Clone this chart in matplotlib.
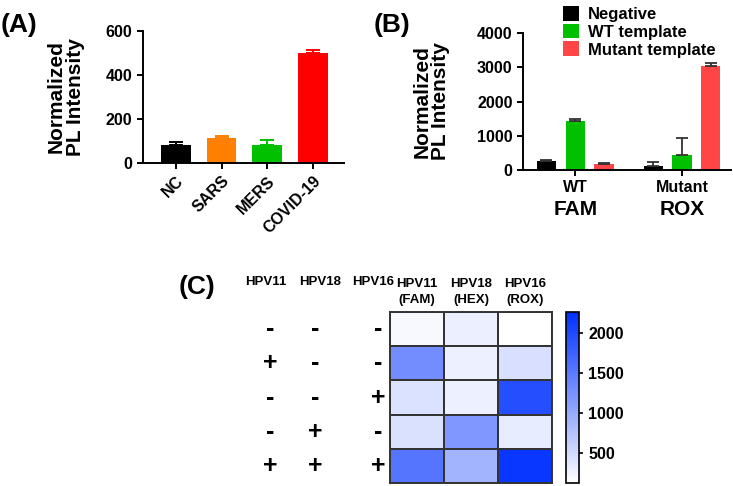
import numpy as np
import matplotlib
matplotlib.use("Agg")
import matplotlib.pyplot as plt
from matplotlib.colors import LinearSegmentedColormap
from matplotlib.transforms import blended_transform_factory

plt.rcParams["font.family"] = ["Liberation Sans", "DejaVu Sans"]
plt.rcParams["font.weight"] = "bold"
plt.rcParams["axes.labelweight"] = "bold"

# (A) virus panel
virus_names = ["NC", "SARS", "MERS", "COVID-19"]
virus_vals = [80, 113, 83, 498]
virus_err = [14, 12, 23, 16]
virus_colors = ["#000000", "#FF8000", "#00C000", "#FF0000"]

# (B) template panel
groups = ["WT", "Mutant"]
dyes = ["FAM", "ROX"]
series_names = ["Negative", "WT template", "Mutant template"]
series_vals = [[250, 120], [1440, 430], [185, 3050]]
series_err = [[30, 110], [40, 490], [25, 60]]
series_colors = ["#000000", "#00C000", "#FF4545"]

# (C) HPV heatmap
hpv_targets = ["HPV11", "HPV18", "HPV16"]
channels = ["HPV11\n(FAM)", "HPV18\n(HEX)", "HPV16\n(ROX)"]
signs = [["-", "-", "-"],
         ["+", "-", "-"],
         ["-", "-", "+"],
         ["-", "+", "-"],
         ["+", "+", "+"]]
heat_vals = np.array([
    [190, 300, 130],
    [1300, 290, 450],
    [430, 290, 1950],
    [440, 1200, 330],
    [1550, 900, 2180],
])

W, H = 733, 486
fig = plt.figure(figsize=(W / 100, H / 100), dpi=100)


def px_axes(left, top, right, bottom):
    return fig.add_axes([left / W, 1 - bottom / H, (right - left) / W, (bottom - top) / H])


def style_axes(ax):
    for s in ["top", "right"]:
        ax.spines[s].set_visible(False)
    for s in ["left", "bottom"]:
        ax.spines[s].set_linewidth(1.4)
    ax.tick_params(width=1.4, length=4, labelsize=11.5)


# ---- (A)
axA = px_axes(143, 31, 344, 163)
xa = np.arange(len(virus_names))
for i in range(len(virus_names)):
    axA.bar(xa[i], virus_vals[i], width=0.65, color=virus_colors[i],
            yerr=[[0], [virus_err[i]]], ecolor=virus_colors[i], capsize=5,
            error_kw={"elinewidth": 1.4, "capthick": 1.4})
axA.set_xlim(-0.72, 3.68)
axA.set_ylim(0, 600)
axA.set_yticks([0, 200, 400, 600])
axA.set_xticks(xa)
axA.set_xticklabels(virus_names, rotation=45, ha="right", rotation_mode="anchor", fontsize=10.5)
style_axes(axA)
axA.set_ylabel("Normalized\nPL Intensity", fontsize=15, linespacing=1.0)
axA.yaxis.set_label_coords(-0.29, 0.5)

# ---- (B)
axB = px_axes(523, 33, 731, 170)
xb = np.arange(len(groups))
offsets = [-0.27, 0.0, 0.27]
for k in range(len(series_names)):
    axB.bar(xb + offsets[k], series_vals[k], width=0.18, color=series_colors[k],
            yerr=[[0, 0], series_err[k]], ecolor="#333333", capsize=4,
            error_kw={"elinewidth": 1.3, "capthick": 1.3}, label=series_names[k])
axB.set_xlim(-0.49, 1.46)
axB.set_ylim(0, 4000)
axB.set_yticks([0, 1000, 2000, 3000, 4000])
axB.set_xticks(xb)
axB.set_xticklabels(groups, fontsize=11.5)
style_axes(axB)
axB.set_ylabel("Normalized\nPL Intensity", fontsize=15, linespacing=1.0)
axB.yaxis.set_label_coords(-0.35, 0.5)
tB = blended_transform_factory(axB.transData, axB.transAxes)
for i, d in enumerate(dyes):
    axB.text(xb[i], -0.29, d, transform=tB, ha="center", va="center", fontsize=15)
axB.legend(loc="upper left", bbox_to_anchor=(0.15, 1.26), frameon=False, fontsize=12,
           handlelength=1.0, handleheight=1.0, labelspacing=0.1, handletextpad=0.5,
           borderpad=0)

# ---- (C)
axC = px_axes(390, 312, 552, 483)
cmap = LinearSegmentedColormap.from_list("wb", ["#FFFFFF", "#0030FF"])
mesh = axC.pcolormesh(heat_vals, cmap=cmap, vmin=125, vmax=2260,
                      edgecolors="#333333", linewidth=1.2)
axC.set_xlim(0, 3)
axC.set_ylim(5, 0)
axC.set_xticks([])
axC.set_yticks([])
for s in axC.spines.values():
    s.set_linewidth(1.4)
    s.set_color("#333333")

tC = blended_transform_factory(axC.transAxes, axC.transData)
sign_x = [-0.74, -0.46, -0.075]
head_x = [-0.765, -0.43, -0.105]
for j, name in enumerate(hpv_targets):
    axC.text(head_x[j], 1.175, name, transform=axC.transAxes, ha="center", va="center", fontsize=9.5)
for r, row in enumerate(signs):
    for j, sg in enumerate(row):
        axC.text(sign_x[j], r + 0.5, sg, transform=tC, ha="center", va="center", fontsize=18)
tC2 = blended_transform_factory(axC.transData, axC.transAxes)
for j, ch in enumerate(channels):
    axC.text(j + 0.5, 1.035, ch, transform=tC2, ha="center", va="bottom", fontsize=9.5, linespacing=1.45)

cax = px_axes(566, 312, 579, 483)
cb = fig.colorbar(mesh, cax=cax, ticks=[500, 1000, 1500, 2000])
cb.outline.set_linewidth(1.2)
cb.ax.tick_params(labelsize=11.5, width=1.2, length=3)

# panel labels
fig.text(1 / W, 1 - 25 / H, "(A)", fontsize=19, va="center", ha="left")
fig.text(374 / W, 1 - 25 / H, "(B)", fontsize=19, va="center", ha="left")
fig.text(179 / W, 1 - 287 / H, "(C)", fontsize=19, va="center", ha="left")

fig.savefig("out.png", dpi=100)
